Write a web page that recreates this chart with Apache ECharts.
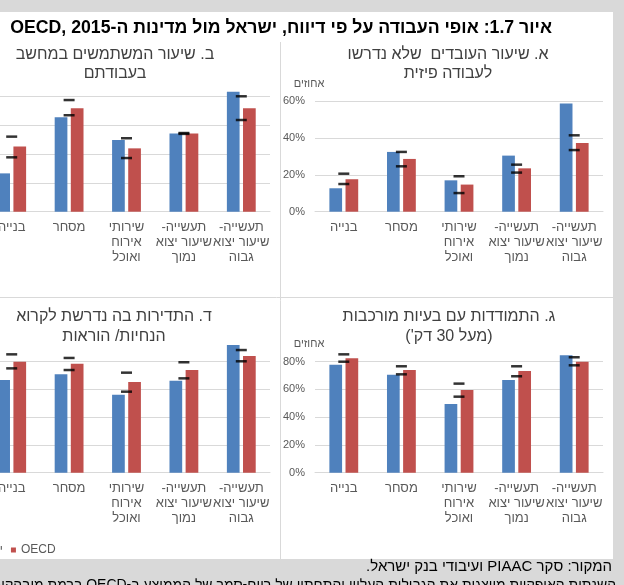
<!DOCTYPE html>
<html lang="he">
<head>
<meta charset="utf-8">
<script src="https://cdn.jsdelivr.net/npm/echarts@6/dist/echarts.min.js"></script>
<style>
  html, body { margin: 0; padding: 0; background: #d9d9d9; overflow: hidden; }
  body { width: 624px; height: 585px; position: relative; }
  /* הגרף חתוך משמאל, לכן הקנבס רחב יותר ומוזז שמאלה */
  #chart { position: absolute; left: -60px; top: 0; width: 684px; height: 585px; }
</style>
</head>
<body>
<div id="chart" dir="rtl"></div>
<script>
// קטגוריות (זהות בכל ארבעת הלוחות)
const categories = ['בנייה', 'מסחר', 'שירותי\nאירוח\nואוכל', 'תעשייה-\nשיעור יצוא\nנמוך', 'תעשייה-\nשיעור יצוא\nגבוה']
const legendNames = ['ישראל', 'OECD']

// ערכי ציר y
const ticksSmall = [0, 20, 40, 60]
const ticksBig = [0, 20, 40, 60, 80]

// א. לא נדרשו לעבודה פיזית
const physIsrael = [12.7, 32.4, 17.0, 30.4, 58.7]
const physOecd = [17.6, 28.6, 14.7, 23.5, 37.2]
const physHi = [20.6, 32.4, 19.2, 25.5, 41.4]
const physLo = [15.0, 24.6, 10.1, 21.2, 33.4]

// ב. משתמשים במחשב
const compIsrael = [26.5, 65.3, 49.6, 54.0, 83.0]
const compOecd = [45.0, 71.5, 43.8, 54.0, 71.5]
const compHi = [51.9, 77.2, 50.8, 54.4, 79.8]
const compLo = [37.6, 66.7, 37.1, 53.8, 63.4]

// ג. בעיות מורכבות
const probIsrael = [77.8, 70.6, 49.5, 66.8, 84.6]
const probOecd = [82.4, 74.0, 59.6, 73.3, 80.0]
const probHi = [85.3, 76.7, 64.2, 76.7, 83.2]
const probLo = [80.0, 70.9, 54.8, 69.5, 77.4]

// ד. קריאת הנחיות
const readIsrael = [66.8, 70.9, 56.2, 66.3, 92.0]
const readOecd = [80.0, 78.6, 65.4, 74.0, 84.1]
const readHi = [85.3, 82.7, 72.1, 79.6, 88.4]
const readLo = [75.2, 74.0, 58.4, 68.0, 80.3]

const myChart = echarts.init(document.getElementById('chart'))

const OX = 60 // הזזה אופקית של הקנבס
const gray = '#d9d9d9'
const labelColor = '#595959'

// גריד לכל לוח
const grids = [
  {left: OX + 315, top: 101, width: 288, height: 110.7},   // א
  {left: OX - 17, top: 96, width: 287, height: 115.7},     // ב
  {left: OX + 315, top: 361.7, width: 288, height: 111},   // ג
  {left: OX - 17, top: 361.7, width: 287, height: 111}     // ד
]
const panelTicks = [ticksSmall, ticksBig, ticksBig, ticksBig]
const panelData = [
  [physIsrael, physOecd, physHi, physLo],
  [compIsrael, compOecd, compHi, compLo],
  [probIsrael, probOecd, probHi, probLo],
  [readIsrael, readOecd, readHi, readLo]
]

const xAxes = grids.map((g, i) => ({
  type: 'category',
  gridIndex: i,
  data: categories,
  axisTick: {show: false},
  axisLine: {lineStyle: {color: gray}},
  axisLabel: {interval: 0, color: labelColor, fontSize: 13, lineHeight: 15, margin: 8}
}))

const yAxes = grids.map((g, i) => {
  const t = panelTicks[i]
  return {
    type: 'value',
    gridIndex: i,
    min: t[0],
    max: t[t.length - 1],
    interval: t[1] - t[0],
    name: 'אחוזים',
    nameLocation: 'end',
    nameGap: 12,
    nameTextStyle: {color: labelColor, fontSize: 11, padding: [0, 12, 0, 0]},
    axisLine: {show: false},
    axisTick: {show: false},
    splitLine: {lineStyle: {color: gray}},
    axisLabel: {formatter: '{value}%', color: labelColor, fontSize: 11, margin: 10}
  }
})

const series = []
panelData.forEach((d, i) => {
  series.push({
    name: legendNames[0], type: 'bar', xAxisIndex: i, yAxisIndex: i,
    data: d[0], barWidth: 12.7, barGap: '27%', clip: false,
    itemStyle: {color: '#4f81bd'}
  })
  series.push({
    name: legendNames[1], type: 'bar', xAxisIndex: i, yAxisIndex: i,
    data: d[1], barWidth: 12.7, barGap: '27%', clip: false,
    itemStyle: {color: '#c0504d'}
  })
  // סימוני הגבולות
  ;[d[2], d[3]].forEach(v => {
    series.push({
      type: 'scatter', xAxisIndex: i, yAxisIndex: i, data: v,
      symbol: 'rect', symbolSize: [11, 2.5], clip: false, z: 5, silent: true,
      itemStyle: {color: '#000'}
    })
  })
})

const panelTitle = (text, x, y, lh) => ({
  text: text, left: OX + x, top: y, padding: 0,
  textAlign: 'center', textVerticalAlign: 'middle',
  textStyle: {fontSize: 16, fontWeight: 'normal', color: '#404040', lineHeight: lh}
})

myChart.setOption({
  backgroundColor: '#fff',
  textStyle: {fontFamily: 'Liberation Sans'},
  animation: false,
  title: [
    {
      text: 'איור 1.7: אופי העבודה על פי דיווח, ישראל מול מדינות ה-OECD, 2015',
      left: OX + 552, top: 28, padding: 0, textAlign: 'right', textVerticalAlign: 'middle',
      textStyle: {fontSize: 17.7, fontWeight: 'bold', color: '#000'}
    },
    panelTitle('א. שיעור העובדים  שלא נדרשו\nלעבודה פיזית', 448, 64, 18.5),
    panelTitle('ב. שיעור המשתמשים במחשב\nבעבודתם', 115, 64, 18.5),
    panelTitle('ג. התמודדות עם בעיות מורכבות\n(מעל 30 דק\')', 449, 326.7, 20),
    panelTitle('ד. התדירות בה נדרשת לקרוא\nהנחיות/ הוראות', 114, 326.7, 20),
    {
      text: 'המקור: סקר PIAAC ועיבודי בנק ישראל.',
      left: OX + 612, top: 567, padding: 0, textAlign: 'right', textVerticalAlign: 'middle',
      textStyle: {fontSize: 15, fontWeight: 'normal', color: '#000'}
    },
    {
      text: 'השנתות האופקיות מייצגות את הגבולות העליון והתחתון של רווח-סמך של הממוצע ב-OECD ברמת מובהקות של 95%.',
      left: OX + 616, top: 585, padding: 0, textAlign: 'right', textVerticalAlign: 'middle',
      textStyle: {fontSize: 14, fontWeight: 'normal', color: '#000'}
    }
  ],
  legend: {
    data: legendNames,
    left: OX - 39, top: 544, padding: 0,
    icon: 'rect', itemWidth: 5, itemHeight: 5, itemGap: 8,
    textStyle: {fontSize: 12, color: labelColor}
  },
  graphic: [
    {type: 'rect', shape: {x: 0, y: 0, width: OX + 624, height: 12}, style: {fill: gray}, silent: true},
    {type: 'rect', shape: {x: OX + 613, y: 0, width: 11, height: 585}, style: {fill: gray}, silent: true},
    {type: 'rect', shape: {x: 0, y: 559, width: OX + 624, height: 26}, style: {fill: gray}, silent: true},
    {type: 'line', shape: {x1: OX + 280.5, y1: 42, x2: OX + 280.5, y2: 559}, style: {stroke: gray, lineWidth: 1}, silent: true},
    {type: 'line', shape: {x1: 0, y1: 297.5, x2: OX + 613, y2: 297.5}, style: {stroke: gray, lineWidth: 1}, silent: true}
  ],
  grid: grids,
  xAxis: xAxes,
  yAxis: yAxes,
  series: series
})
</script>
</body>
</html>
